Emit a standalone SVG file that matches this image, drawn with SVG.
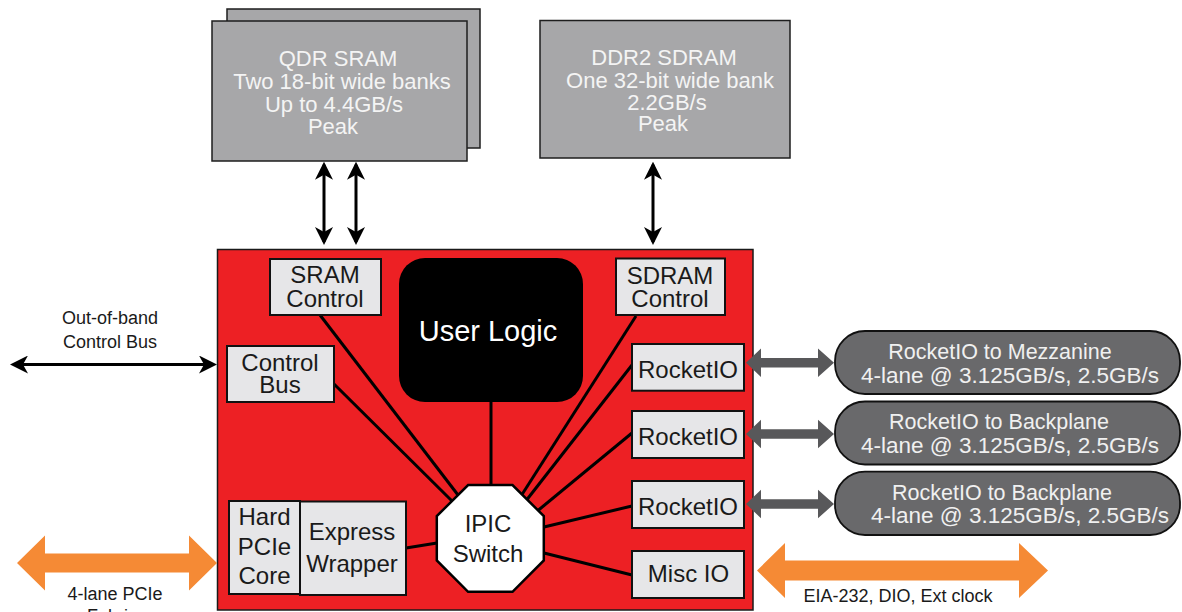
<svg xmlns="http://www.w3.org/2000/svg" width="1182" height="612" viewBox="0 0 1182 612">
  <style>
    text { font-family: "Liberation Sans", Arial, sans-serif; text-anchor: middle; }
    .mem { fill: #a7a7a9; stroke: #1e1e1e; stroke-width: 1.5; }
    .memt { font-size: 22px; fill: #f4f4f4; }
    .box { fill: #e6e6e8; stroke: #111; stroke-width: 2; }
    .boxt { font-size: 24px; fill: #1a1a1a; }
    .pill { fill: #69696b; stroke: #111; stroke-width: 1.8; }
    .pillt { font-size: 21.5px; fill: #f0f0f0; }
    .pillt2 { font-size: 22.5px; }
    .ext { font-size: 18px; fill: #1a1a1a; }
    .wire { stroke: #000; stroke-width: 3; fill: none; }
    .barrow { stroke: #000; stroke-width: 3; fill: none; marker-start: url(#bh); marker-end: url(#bh); }
    .garrow { fill: #58585a; }
    .oarrow { fill: #f58a35; }
  </style>
  <defs>
    <marker id="bh" viewBox="0 0 18 18" markerWidth="18" markerHeight="18" refX="15" refY="9" orient="auto-start-reverse" markerUnits="userSpaceOnUse">
      <path d="M0,0 L18,9 L0,18 L5,9 Z" fill="#000"/>
    </marker>
    <path id="gdbl" d="M0,0 L15,-14.2 L15,-4.7 L72,-4.7 L72,-14.2 L88,0 L72,14.2 L72,4.7 L15,4.7 L15,14.2 Z"/>
  </defs>

  <rect width="1182" height="612" fill="#fff"/>

  <!-- FPGA container -->
  <g id="fpga">
    <rect x="217.5" y="249.5" width="535.5" height="360.5" fill="#ed2024" stroke="#1a1a1a" stroke-width="1.5"/>
  </g>

  <!-- connectors -->
  <g id="connectors">
    <line class="barrow" x1="324" y1="164.7" x2="324" y2="242"/>
    <line class="barrow" x1="356" y1="164.7" x2="356" y2="242"/>
    <line class="barrow" x1="653" y1="164.7" x2="653" y2="242"/>
    <line class="barrow" x1="13" y1="364.5" x2="214" y2="364.5"/>

    <line class="wire" x1="320" y1="315" x2="458" y2="495"/>
    <line class="wire" x1="334" y1="384" x2="452" y2="501"/>
    <line class="wire" x1="406" y1="548" x2="437" y2="543"/>
    <line class="wire" x1="491" y1="402" x2="491" y2="485"/>
    <line class="wire" x1="636" y1="316" x2="522" y2="494.5"/>
    <line class="wire" x1="632" y1="365" x2="527" y2="499.5"/>
    <line class="wire" x1="632" y1="433" x2="538" y2="510.5"/>
    <line class="wire" x1="632" y1="506" x2="544" y2="527"/>
    <line class="wire" x1="632" y1="575" x2="544" y2="553"/>

    <use href="#gdbl" class="garrow" transform="translate(746,362.7)"/>
    <use href="#gdbl" class="garrow" transform="translate(746,434)"/>
    <use href="#gdbl" class="garrow" transform="translate(746,504)"/>

    <path class="oarrow" d="M17,563 L45,535.5 L45,553.5 L189,553.5 L189,535.5 L217,563 L189,590.5 L189,572.5 L45,572.5 L45,590.5 Z"/>
    <path class="oarrow" d="M757,570.5 L785,543 L785,560.5 L1019,560.5 L1019,543 L1048,570.5 L1019,598 L1019,580.5 L785,580.5 L785,598 Z"/>
  </g>

  <!-- external labels -->
  <g id="oob-label">
    <text class="ext" x="110" y="324">Out-of-band<tspan x="110" dy="24">Control Bus</tspan></text>
  </g>
  <g id="pcie-label">
    <text class="ext" x="115" y="600">4-lane PCIe<tspan x="112" dy="22">Fabric</tspan></text>
  </g>
  <g id="misc-label">
    <text class="ext" x="898" y="602">EIA-232, DIO, Ext clock</text>
  </g>

  <!-- memories -->
  <g id="qdr-sram">
    <rect class="mem" x="227" y="9" width="253" height="139"/>
    <rect class="mem" x="212" y="21" width="255" height="140"/>
    <text class="memt" x="338" y="66">QDR SRAM<tspan x="342" dy="22.5">Two 18-bit wide banks</tspan><tspan x="334" dy="23">Up to 4.4GB/s</tspan><tspan x="333" dy="22">Peak</tspan></text>
  </g>
  <g id="ddr2-sdram">
    <rect class="mem" x="540" y="20.5" width="250" height="137.5"/>
    <text class="memt" x="664" y="64.5">DDR2 SDRAM<tspan x="670" dy="23">One 32-bit wide bank</tspan><tspan x="667" dy="22.5">2.2GB/s</tspan><tspan x="663" dy="21">Peak</tspan></text>
  </g>

  <!-- internal blocks -->
  <g id="sram-control">
    <rect class="box" x="270" y="259" width="111" height="56"/>
    <text class="boxt" x="325" y="283">SRAM<tspan x="325" dy="23.5">Control</tspan></text>
  </g>
  <g id="control-bus">
    <rect class="box" x="227" y="346" width="107" height="56"/>
    <text class="boxt" x="280" y="370.5">Control<tspan x="280" dy="22.5">Bus</tspan></text>
  </g>
  <g id="user-logic">
    <rect x="399" y="258" width="184" height="144" rx="26" ry="26" fill="#000"/>
    <text x="488" y="340.5" font-size="29" fill="#fff">User Logic</text>
  </g>
  <g id="sdram-control">
    <rect class="box" x="616" y="258.5" width="109" height="56.5"/>
    <text class="boxt" x="670" y="284.3">SDRAM<tspan x="670" dy="22.4">Control</tspan></text>
  </g>
  <g id="rocketio-1">
    <rect class="box" x="632" y="344" width="112" height="46.7"/>
    <text class="boxt" x="688" y="378.3">RocketIO</text>
  </g>
  <g id="rocketio-2">
    <rect class="box" x="632" y="411" width="112" height="47"/>
    <text class="boxt" x="688" y="445">RocketIO</text>
  </g>
  <g id="rocketio-3">
    <rect class="box" x="632" y="481" width="112" height="47"/>
    <text class="boxt" x="688" y="515">RocketIO</text>
  </g>
  <g id="misc-io">
    <rect class="box" x="632" y="551" width="112" height="47"/>
    <text class="boxt" x="688.5" y="581.7">Misc IO</text>
  </g>
  <g id="hard-pcie-core">
    <rect class="box" x="229" y="501" width="71" height="93"/>
    <text class="boxt" x="264.5" y="525">Hard<tspan x="264.5" dy="30">PCIe</tspan><tspan x="264.5" dy="29">Core</tspan></text>
  </g>
  <g id="express-wrapper">
    <rect class="box" x="300" y="501.5" width="106" height="93.5"/>
    <text class="boxt" x="352" y="540">Express<tspan x="352" dy="31.7">Wrapper</tspan></text>
  </g>
  <g id="ipic-switch">
    <polygon points="468.1,485 512.5,485 543.8,516.1 543.8,560.5 512.5,591.8 468.1,591.8 436.8,560.5 436.8,516.1" fill="#fff" stroke="#000" stroke-width="2.5"/>
    <text class="boxt" x="488" y="531.7">IPIC<tspan x="488" dy="30">Switch</tspan></text>
  </g>

  <!-- off-board links -->
  <g id="mezzanine">
    <rect class="pill" x="835" y="331" width="345" height="63" rx="30" ry="30"/>
    <text class="pillt" x="1000" y="359">RocketIO to Mezzanine<tspan class="pillt2" x="1010" dy="24">4-lane @ 3.125GB/s, 2.5GB/s</tspan></text>
  </g>
  <g id="backplane-1">
    <rect class="pill" x="835" y="401.5" width="345" height="63" rx="30" ry="30"/>
    <text class="pillt" x="999" y="429.3">RocketIO to Backplane<tspan class="pillt2" x="1010" dy="24">4-lane @ 3.125GB/s, 2.5GB/s</tspan></text>
  </g>
  <g id="backplane-2">
    <rect class="pill" x="835" y="471.7" width="345" height="63.3" rx="30" ry="30"/>
    <text class="pillt" x="1002" y="500">RocketIO to Backplane<tspan class="pillt2" x="1020" dy="23.3">4-lane @ 3.125GB/s, 2.5GB/s</tspan></text>
  </g>
</svg>
